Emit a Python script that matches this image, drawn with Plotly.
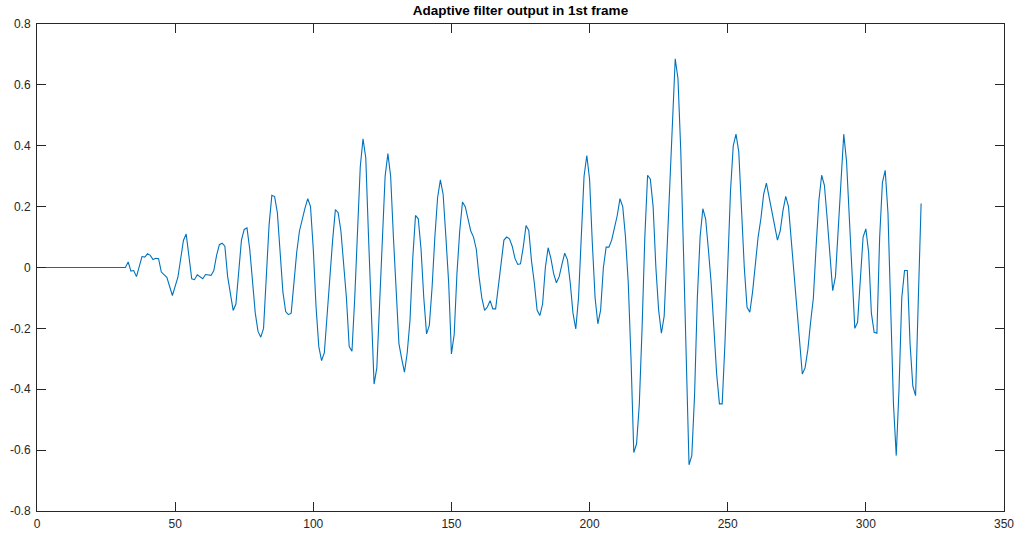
import plotly.graph_objects as go

# Sample index (vertices) and filter output values
x_vals = [1, 32, 33, 34, 35, 36, 38, 39, 40, 41, 42, 43, 44, 45, 47, 49, 51, 53, 54, 55, 56, 57, 58, 60, 61, 63, 64,
          65, 66, 67, 68, 69, 70, 71, 72, 73, 74, 75, 76, 77, 78, 79, 80, 81, 82, 83, 84, 85, 86, 87, 88, 89, 90,
          91, 92, 93, 94, 95, 96, 97, 98, 99, 100, 101, 102, 103, 104, 105, 106, 107, 108, 109, 110, 111, 112,
          113, 114, 115, 116, 117, 118, 119, 120, 121, 122, 123, 124, 125, 126, 127, 128, 129, 130, 131, 132,
          133, 134, 135, 136, 137, 138, 139, 140, 141, 142, 143, 144, 145, 146, 147, 148, 149, 150, 151, 152,
          153, 154, 155, 156, 157, 158, 159, 160, 161, 162, 163, 164, 165, 166, 167, 168, 169, 170, 171, 172,
          173, 174, 175, 176, 177, 178, 179, 180, 181, 182, 183, 184, 185, 186, 187, 188, 189, 190, 191, 192,
          193, 194, 195, 196, 197, 198, 199, 200, 201, 202, 203, 204, 205, 206, 207, 208, 209, 210, 211, 212,
          213, 214, 215, 216, 217, 218, 219, 220, 221, 222, 223, 224, 225, 226, 227, 228, 229, 230, 231, 232,
          233, 234, 235, 236, 237, 238, 239, 240, 241, 242, 243, 244, 245, 246, 247, 248, 249, 250, 251, 252,
          253, 254, 255, 256, 257, 258, 259, 260, 261, 262, 263, 264, 265, 266, 267, 268, 269, 270, 271, 272,
          273, 274, 275, 276, 277, 278, 279, 280, 281, 282, 283, 284, 285, 286, 287, 288, 289, 290, 291, 292,
          293, 294, 295, 296, 297, 298, 299, 300, 301, 302, 303, 304, 305, 306, 307, 308, 309, 310, 311, 312,
          313, 314, 315, 316, 317, 318, 319, 320]
y_vals = [0, 0, 0.018, -0.012, -0.01, -0.03, 0.036, 0.034, 0.045, 0.04, 0.026, 0.03, 0.029, -0.015, -0.032, -0.092,
          -0.032, 0.089, 0.11, 0.034, -0.037, -0.04, -0.024, -0.037, -0.023, -0.026, -0.01,
          0.04, 0.075, 0.08, 0.07, -0.03, -0.09, -0.141, -0.12, -0.01, 0.09, 0.125, 0.13, 0.06, -0.06, -0.15, -0.21,
          -0.229, -0.2, -0.02, 0.14, 0.237, 0.233, 0.18, 0.05, -0.08, -0.145, -0.155, -0.15, -0.05, 0.05, 0.12,
          0.16, 0.195, 0.226, 0.2, 0.06, -0.13, -0.26, -0.306, -0.28, -0.15, -0.01, 0.09, 0.19, 0.18, 0.12, 0.02,
          -0.1, -0.26, -0.275, -0.1, 0.09, 0.33, 0.423, 0.36, 0.1, -0.15, -0.383, -0.33, -0.1, 0.08, 0.3, 0.374,
          0.3, 0.1, -0.1, -0.25, -0.3, -0.344, -0.28, -0.174, 0.03, 0.171, 0.16, 0.06, -0.1, -0.218, -0.19, -0.065,
          0.1, 0.23, 0.288, 0.24, 0.1, -0.05, -0.284, -0.22, -0.02, 0.12, 0.215, 0.2, 0.16, 0.12, 0.1, 0.06, -0.03,
          -0.1, -0.141, -0.13, -0.109, -0.136, -0.136, -0.06, 0.02, 0.09, 0.1, 0.094, 0.07, 0.03, 0.01, 0.012,
          0.067, 0.138, 0.122, 0.02, -0.05, -0.14, -0.158, -0.12, 0.0, 0.065, 0.03, -0.02, -0.05, -0.03, 0.01,
          0.047, 0.025, -0.05, -0.15, -0.202, -0.1, 0.1, 0.3, 0.368, 0.29, 0.08, -0.1, -0.185, -0.14, 0.0, 0.067,
          0.067, 0.09, 0.13, 0.17, 0.226, 0.2, 0.1, -0.05, -0.3, -0.608, -0.58, -0.45, -0.2, 0.1, 0.303, 0.29, 0.2,
          0.0, -0.14, -0.216, -0.16, 0.05, 0.3, 0.5, 0.686, 0.62, 0.385, 0.05, -0.3, -0.648, -0.618, -0.42, -0.1,
          0.1, 0.193, 0.16, 0.06, -0.05, -0.2, -0.35, -0.448, -0.448, -0.25, 0.0, 0.25, 0.4, 0.438, 0.38, 0.2, 0.0,
          -0.131, -0.147, -0.08, 0.02, 0.1, 0.16, 0.24, 0.277, 0.23, 0.18, 0.14, 0.09, 0.12, 0.187, 0.234, 0.2,
          0.09, -0.02, -0.12, -0.25, -0.35, -0.33, -0.27, -0.18, -0.1, 0.07, 0.22, 0.303, 0.27, 0.16, 0.03, -0.076,
          -0.03, 0.12, 0.3, 0.438, 0.35, 0.15, -0.05, -0.2, -0.18, -0.05, 0.1, 0.127, 0.05, -0.15, -0.213, -0.216,
          0.1, 0.28, 0.319, 0.18, -0.15, -0.45, -0.618, -0.4, -0.1, -0.01, -0.01, -0.25, -0.39, -0.421, -0.1, 0.21]

x_ticks = [0, 50, 100, 150, 200, 250, 300, 350]
y_ticks = [-0.8, -0.6, -0.4, -0.2, 0, 0.2, 0.4, 0.6, 0.8]
y_ticktext = ["-0.8", "-0.6", "-0.4", "-0.2", "0", "0.2", "0.4", "0.6", "0.8"]

fig = go.Figure()
fig.add_trace(go.Scatter(x=x_vals, y=y_vals, mode="lines",
                         line=dict(color="#0072BD", width=1.1), showlegend=False))

axis_common = dict(showline=True, linecolor="#262626", linewidth=1, mirror="ticks",
                   ticks="inside", ticklen=9, tickcolor="#262626", tickwidth=1,
                   showgrid=False, zeroline=False, automargin=False,
                   tickfont=dict(family="Liberation Sans, Arial, sans-serif", size=12, color="#262626"))

fig.update_layout(
    width=1024, height=533,
    margin=dict(l=37, r=20, t=24, b=22),
    paper_bgcolor="white", plot_bgcolor="white",
    title=dict(text="<b>Adaptive filter output in 1st frame</b>", xref="paper", x=0.5, xanchor="center",
               y=0.989, yanchor="top",
               font=dict(family="Liberation Sans, Arial, sans-serif", size=13.5, color="#000000")),
    xaxis=dict(range=[0, 350], tickvals=x_ticks, ticktext=[str(v) for v in x_ticks], ticklabelstandoff=2,
               **axis_common),
    yaxis=dict(range=[-0.8, 0.8], tickvals=y_ticks, ticktext=y_ticktext, ticklabelstandoff=3, **axis_common),
)

fig.write_html("out.html")
